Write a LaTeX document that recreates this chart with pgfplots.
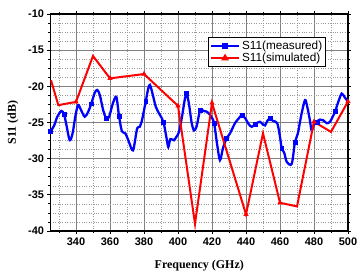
\documentclass[border=0pt]{standalone}
\usepackage{fontspec}
\setmainfont{Liberation Sans}
\newfontfamily\tnr{Liberation Serif}
\usepackage{pgfplots}
\pgfplotsset{compat=1.18}
\begin{document}
\begin{tikzpicture}
\useasboundingbox (-50.5bp,-44bp) rectangle (307.5bp,231bp);
\begin{axis}[
  at={(0,0)}, anchor=south west,
  scale only axis, width=297.5bp, height=217bp,
  xmin=325, xmax=500, ymin=-40, ymax=-10,
  xtick={340,360,...,500}, minor xtick={330,350,...,490},
  ytick={-40,-35,...,-10}, minor y tick num=3,
  grid=both,
  major grid style={draw=black!50, line width=0.8pt},
  minor grid style={draw=black!40, dotted, line width=0.5pt},
  axis line style={black, line width=1.3pt},
  tick style={black, line width=0.8pt},
  tick align=outside,
  major tick length=3bp, minor tick length=2bp,
  ticklabel style={font=\fontsize{11}{12}\selectfont\bfseries},
  /pgf/number format/assume math mode=true,
  xlabel={Frequency (GHz)}, ylabel={S11 (dB)},
  label style={font=\tnr\bfseries\fontsize{12}{13}\selectfont},
  xlabel style={at={(axis description cs:0.5,0)}, anchor=north, yshift=-26bp},
  ylabel style={at={(axis description cs:-0.096,0.5)}, anchor=south},
  legend style={at={(0.53,0.895)}, anchor=north west, draw=black, line width=0.8pt,
    font=\fontsize{11.8}{13}\selectfont, inner sep=1.5pt, row sep=-1.5pt},
  legend cell align=left,
  legend image code/.code={\draw[mark repeat=2,mark phase=2,#1] plot coordinates {(0bp,0bp) (14bp,0bp) (28bp,0bp)};},
]
\addlegendimage{blue, line width=2pt, mark=square*, mark size=2pt}
\addlegendentry{S11(measured)}
\addlegendimage{red, line width=2pt, mark=triangle*, mark size=2.6pt}
\addlegendentry{S11(simulated)}

\addplot[blue, line width=2.3pt, smooth, forget plot] coordinates {
(325,-26.2) (327,-25.5) (329,-24.2) (331.4,-23.4) (333,-23.9) (334.5,-25.5)
(336.3,-27.45) (338,-26.5) (339.5,-24.3) (341.2,-22.6) (343,-23.3) (345.1,-24.2)
(347,-23.6) (349,-22.4) (351,-20.9) (352.5,-20.5) (354,-21.2) (356,-23.3)
(357.8,-24.45) (359.5,-24.2) (361.5,-22.5) (363.7,-21.45) (365.3,-24.1)
(367,-26.2) (369,-26.5) (371,-27.6) (373,-28.8) (374,-28.5) (376,-25.8)
(377.5,-25.6) (379,-24.5) (381,-22.1) (382.5,-20.3) (383.5,-19.8) (385,-21)
(386.9,-22.8) (389,-23.8) (391.4,-24.9) (393.3,-27.2) (394.3,-28.4) (395.5,-27.3)
(397.6,-27.45) (399,-27) (400.6,-26.3) (402.5,-24) (404,-21.8) (405.1,-21.0)
(406.5,-22.5) (408,-25) (409.4,-26.1) (411,-25.5) (413,-23.3) (415,-23.4)
(416.9,-23.5) (419,-24) (421.2,-25.05) (423,-28) (424.7,-30.2) (426.5,-28.5)
(428.6,-27.2) (430.6,-26.5) (433.5,-25.1) (435.5,-24.5) (437.5,-24.0) (439.5,-24.4)
(441.5,-25.2) (443.4,-25.6) (445.5,-25.2) (448.2,-24.9) (450,-25.3) (451.2,-25.4)
(452.5,-24.8) (454.1,-24.45) (456,-24.8) (458.4,-25.1) (460,-27) (461,-28.6)
(462.5,-29.2) (464,-30.45) (466.9,-30.7) (468.8,-27.7) (470.5,-26.5) (472.5,-24)
(474.7,-21.9) (476,-22.8) (477.6,-24.7) (478.6,-26.1) (480,-25.3) (481.6,-24.9)
(483.5,-24.6) (485.5,-24.7) (487.5,-25.1) (489.4,-24.9) (491,-24.2) (492.4,-23.5)
(494.5,-22) (496.3,-21.0) (498,-21.5) (500,-22.1)
};
\addplot[blue, only marks, mark=square*, mark size=2pt, forget plot] coordinates {
(325,-26.2) (333,-23.9) (349,-22.4) (357.8,-24.45) (365.3,-24.1) (381,-22.1)
(391.4,-24.9) (405.1,-21.0) (413,-23.3) (421.2,-25.05) (428.6,-27.2) (437.5,-24.0)
(445.5,-25.2) (454.1,-24.45) (461,-28.6) (468.8,-27.7) (481.6,-24.9) (492.4,-23.5)
};
\addplot[red, line width=2pt, forget plot] coordinates {
(325.3,-19.15) (329.6,-22.6) (340,-22.15) (350,-15.8) (360,-18.9) (380,-18.3)
(400,-22.7) (410,-39.0) (420,-22.3) (440,-37.7) (450,-26.5) (460,-36.1)
(470,-36.6) (480,-24.9) (490,-26.3) (500,-22.1)
};
\addplot[red, only marks, mark=triangle*, mark size=2.6pt, forget plot] coordinates {
(340,-22.15) (360,-18.9) (380,-18.3) (400,-22.7) (420,-22.3) (440,-37.7)
(460,-36.1) (480,-24.9) (500,-22.1)
};
\end{axis}
\end{tikzpicture}
\end{document}
